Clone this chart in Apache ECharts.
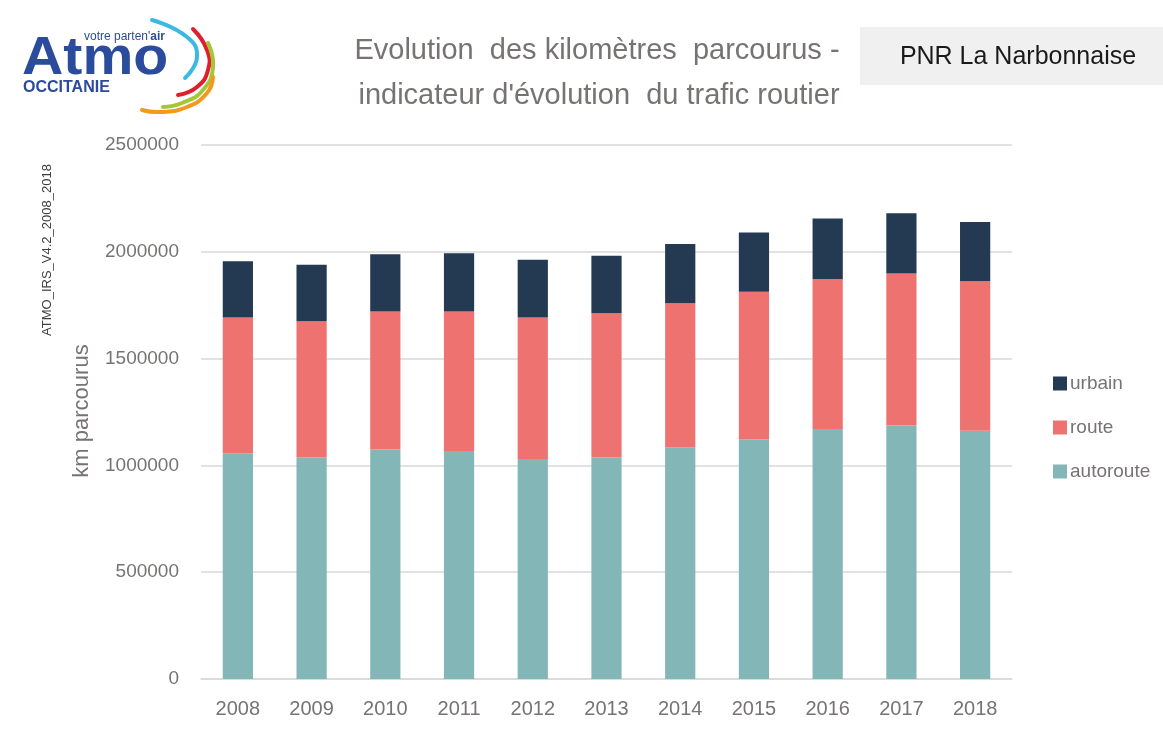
<!DOCTYPE html>
<html><head><meta charset="utf-8">
<script src="https://cdn.jsdelivr.net/npm/echarts@6/dist/echarts.min.js"></script>
<style>html,body{margin:0;padding:0;background:#fff}#c{width:1163px;height:729px}</style>
</head><body><div id="c"></div>
<script>
const years = ['2008','2009','2010','2011','2012','2013','2014','2015','2016','2017','2018'];
const autoroute = [1056000,1037000,1075000,1067000,1030000,1037000,1085000,1121000,1170000,1187000,1162000];
const route = [637000,638000,646000,654000,663000,675000,674000,692000,703000,711000,700000];
const urbain = [263000,264000,268000,272000,270000,269000,277000,277000,283000,283000,277000];
const yTicks = [0,500000,1000000,1500000,2000000,2500000];

const FONT = '"Liberation Sans", Arial, sans-serif';
const TXT = '#787373';
const chart = echarts.init(document.getElementById('c'));
chart.setOption({
  animation:false,
  backgroundColor:'#fff',
  grid:{left:201,right:151,top:145,bottom:50},
  legend:{
    orient:'vertical',left:1048,top:369,itemGap:25,itemWidth:14,itemHeight:14,
    icon:'rect',data:['urbain','route','autoroute'],
    textStyle:{color:TXT,fontSize:19,fontFamily:FONT,padding:[0,0,0,-2]}
  },
  xAxis:{type:'category',data:years,
    axisLine:{lineStyle:{color:'#d9d9d9',width:1.5}},axisTick:{show:false},
    axisLabel:{color:TXT,fontSize:20,fontFamily:FONT,margin:20}},
  yAxis:{type:'value',min:yTicks[0],max:yTicks[yTicks.length-1],interval:500000,
    axisLine:{show:false},axisTick:{show:false},
    splitLine:{lineStyle:{color:'#d9d9d9',width:1.5}},
    axisLabel:{color:TXT,fontSize:19,fontFamily:FONT,margin:22,formatter:v=>String(v)}},
  series:[
    {name:'autoroute',type:'bar',stack:'t',data:autoroute,barCategoryGap:'59%',itemStyle:{color:'#83b6b6'}},
    {name:'route',type:'bar',stack:'t',data:route,itemStyle:{color:'#ee7370'}},
    {name:'urbain',type:'bar',stack:'t',data:urbain,itemStyle:{color:'#243a52'}}
  ],
  graphic:[
    {type:'rect',shape:{x:860,y:27,width:303,height:58},style:{fill:'#f0f0f0'}},
    {type:'text',x:1018,y:57,style:{text:'PNR La Narbonnaise',fill:'#1a1a1a',font:'25px '+FONT,align:'center',verticalAlign:'middle'}},
    {type:'text',x:597,y:51,style:{text:'Evolution  des kilomètres  parcourus -',fill:TXT,font:'29px '+FONT,align:'center',verticalAlign:'middle'}},
    {type:'text',x:599,y:96,style:{text:"indicateur d'évolution  du trafic routier",fill:TXT,font:'29px '+FONT,align:'center',verticalAlign:'middle'}},
    {type:'text',x:82,y:411,rotation:Math.PI/2,style:{text:'km parcourus',fill:TXT,font:'22px '+FONT,align:'center',verticalAlign:'middle'}},
    {type:'text',x:47,y:250,rotation:Math.PI/2,style:{text:'ATMO_IRS_V4.2_2008_2018',fill:'#404040',font:'13px '+FONT,align:'center',verticalAlign:'middle'}},
    // logo
    {type:'text',x:22,y:59,scaleX:1.06,style:{text:'Atmo',fill:'#2b4c9c',font:'bold 54px '+FONT,align:'left',verticalAlign:'middle'}},
    {type:'text',x:84,y:37,style:{rich:{a:{fill:'#2b4c9c',font:'12px '+FONT},b:{fill:'#2b4c9c',font:'bold 12px '+FONT}},text:"{a|votre parten'}{b|air}",verticalAlign:'middle'}},
    {type:'text',x:23,y:88,style:{text:'OCCITANIE',fill:'#2b4c9c',font:'bold 16px '+FONT,verticalAlign:'middle'}},
    {type:'polyline',shape:{points:[[152,20],[187,37],[197,57],[185,78]],smooth:0.5},style:{stroke:'#3cb9e3',lineWidth:4,fill:null,lineCap:'round'}},
    {type:'polyline',shape:{points:[[193,29],[207,50],[208,70],[197,87],[178,95]],smooth:0.5},style:{stroke:'#e01f2d',lineWidth:4,fill:null,lineCap:'round'}},
    {type:'polyline',shape:{points:[[208,43],[213,67],[203,90],[182,103],[163,107]],smooth:0.5},style:{stroke:'#a6c63a',lineWidth:4,fill:null,lineCap:'round'}},
    {type:'polyline',shape:{points:[[213,77],[207,93],[187,107],[160,112],[142,110]],smooth:0.5},style:{stroke:'#f39a1e',lineWidth:4,fill:null,lineCap:'round'}}
  ]
});
</script></body></html>
